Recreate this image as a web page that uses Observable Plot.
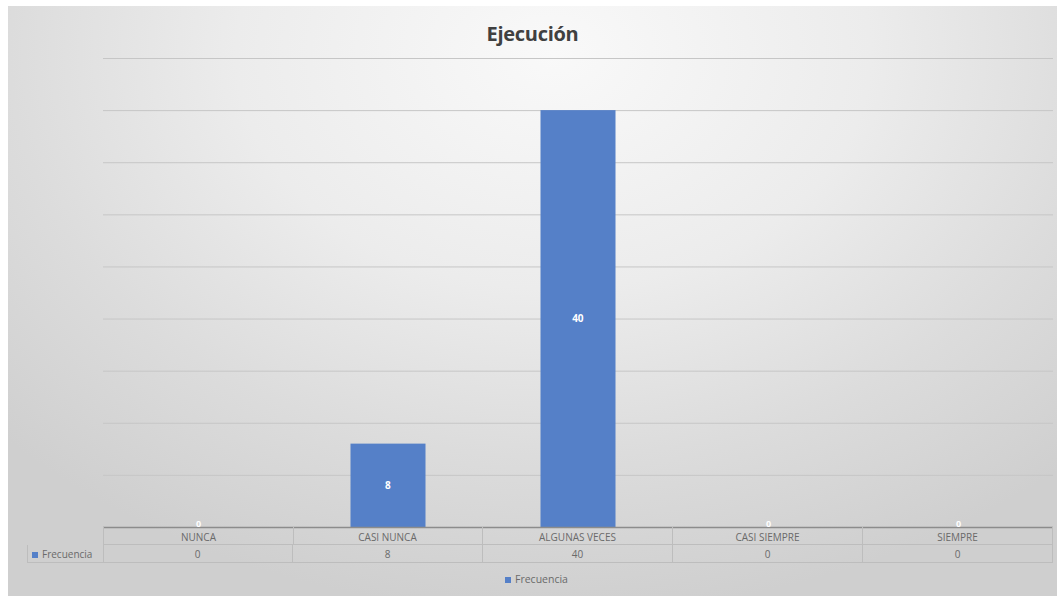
<!DOCTYPE html>
<html>
<head>
<meta charset="utf-8">
<script src="https://cdn.jsdelivr.net/npm/d3@7"></script>
<script src="https://cdn.jsdelivr.net/npm/@observablehq/plot@0.6"></script>
<style>
  html, body { margin: 0; padding: 0; background: #ffffff; }
  body { width: 1059px; height: 596px; position: relative; overflow: hidden; font-family: "Open Sans", "Noto Sans", sans-serif; }
  #chart { position: absolute; left: 8px; top: 6px; width: 1049px; height: 590px;
    background: radial-gradient(ellipse 72% 95% at 52% 8%, #f9f9f9 0%, #ececec 42%, #dcdcdc 72%, #cfcfcf 100%); }
  #title { position: absolute; left: 0; width: 1049px; top: 14px; text-align: center; font-size: 20px; font-weight: 700; color: #404040; letter-spacing: -0.3px; }
  #plot { position: absolute; left: 0; top: 42px; }
  #table { position: absolute; top: 521px; left: 19px; font-size: 10px; color: #6a6a6a; }
  .row { position: absolute; height: 18px; line-height: 18px; }
  .cell { position: absolute; top: 0; height: 17px; text-align: center; border-right: 1px solid #bdbdbd; border-bottom: 1px solid #bdbdbd; box-sizing: content-box; }
  .row1 .cell { line-height: 20px; }
  .sw { display: inline-block; width: 6px; height: 6px; background: #5580c8; margin-right: 4px; vertical-align: 0px; }
  #legend { position: absolute; top: 566px; left: 497px; font-size: 10.5px; color: #6a6a6a; }
</style>
</head>
<body>
<div id="chart">
  <div id="title">Ejecución</div>
  <div id="plot"></div>
  <div id="table"></div>
  <div id="legend"><span class="sw"></span>Frecuencia</div>
</div>
<script>
const categories = ["NUNCA", "CASI NUNCA", "ALGUNAS VECES", "CASI SIEMPRE", "SIEMPRE"];
const frecuencia = [0, 8, 40, 0, 0];
const gridTicks = [5, 10, 15, 20, 25, 30, 35, 40, 45];
const seriesName = "Frecuencia";

const data = categories.map((c, i) => ({cat: c, v: frecuencia[i]}));

const W = 1049, H = 481;
const mL = 95, mR = 4, mT = 10, mB = 2;
const bandW = (W - mL - mR) / categories.length;
const inset = (bandW - 75) / 2;

const chart = Plot.plot({
  width: W,
  height: H,
  marginLeft: mL,
  marginRight: mR,
  marginTop: mT,
  marginBottom: mB,
  style: {background: "transparent", fontFamily: "'Open Sans', sans-serif", overflow: "visible"},
  x: {domain: categories, padding: 0, axis: null},
  y: {domain: [0, 45], axis: null},
  marks: [
    Plot.ruleY(gridTicks, {stroke: "#c6c6c6", strokeWidth: 1}),
    Plot.barY(data, {x: "cat", y: "v", fill: "#5580c8", insetLeft: inset, insetRight: inset}),
    Plot.ruleY([0], {stroke: "#8c8c8c", strokeWidth: 1.5}),
    Plot.text(data.filter(d => d.v > 0), {x: "cat", y: d => d.v / 2, text: d => String(d.v), fill: "#ffffff", fontSize: 10, fontWeight: 700}),
    Plot.text(data.filter(d => d.v === 0), {x: "cat", y: d => d.v, text: d => String(d.v), fill: "#ffffff", fontSize: 9, fontWeight: 700, lineAnchor: "bottom", dy: -1})
  ]
});
document.getElementById("plot").appendChild(chart);

const xs = chart.scale("x");

// Ensure value labels sit at the centre of their band: measure each label and shift it
requestAnimationFrame(() => {
  const svgBox = chart.getBoundingClientRect();
  chart.querySelectorAll("g[aria-label='text']").forEach(g => {
    g.querySelectorAll("text").forEach(t => {
      const b = t.getBoundingClientRect();
      const cx = b.left + b.width / 2 - svgBox.left;
      let best = null, bd = Infinity;
      categories.forEach(c => {
        const d = Math.abs(xs.apply(c) + xs.bandwidth / 2 - cx);
        const dStart = Math.abs(xs.apply(c) - cx);
        const m = Math.min(d, dStart);
        if (m < bd) { bd = m; best = c; }
      });
      const shift = xs.apply(best) + xs.bandwidth / 2 - cx;
      if (Math.abs(shift) > 0.5) {
        const prev = t.getAttribute("dx");
        t.setAttribute("dx", (prev ? parseFloat(prev) : 0) + shift);
      }
    });
  });
});

// Data table aligned to the plot's band scale
const tbl = document.getElementById("table");
const offset = 19; // table container left within chart div
const row1 = document.createElement("div");
row1.className = "row row1"; row1.style.top = "0px";
const row2 = document.createElement("div");
row2.className = "row"; row2.style.top = "18px";
categories.forEach((c, i) => {
  const x0 = xs.apply(c) - offset;
  const w = xs.bandwidth;
  const a = document.createElement("div");
  a.className = "cell"; a.style.left = x0 + "px"; a.style.width = (w - 1) + "px";
  a.textContent = c;
  if (i === 0) a.style.borderLeft = "1px solid #bdbdbd";
  row1.appendChild(a);
  const b = document.createElement("div");
  b.className = "cell"; b.style.left = x0 + "px"; b.style.width = (w - 1) + "px";
  b.textContent = String(frecuencia[i]);
  row2.appendChild(b);
});
const head = document.createElement("div");
head.className = "cell";
const hx = xs.apply(categories[0]) - offset;
head.style.left = "0px"; head.style.width = (hx - 1) + "px";
head.style.borderLeft = "1px solid #bdbdbd";
head.style.textAlign = "left";
head.innerHTML = '<span class="sw" style="margin-left:4px"></span>' + seriesName;
row2.appendChild(head);
tbl.appendChild(row1);
tbl.appendChild(row2);
</script>
</body>
</html>
